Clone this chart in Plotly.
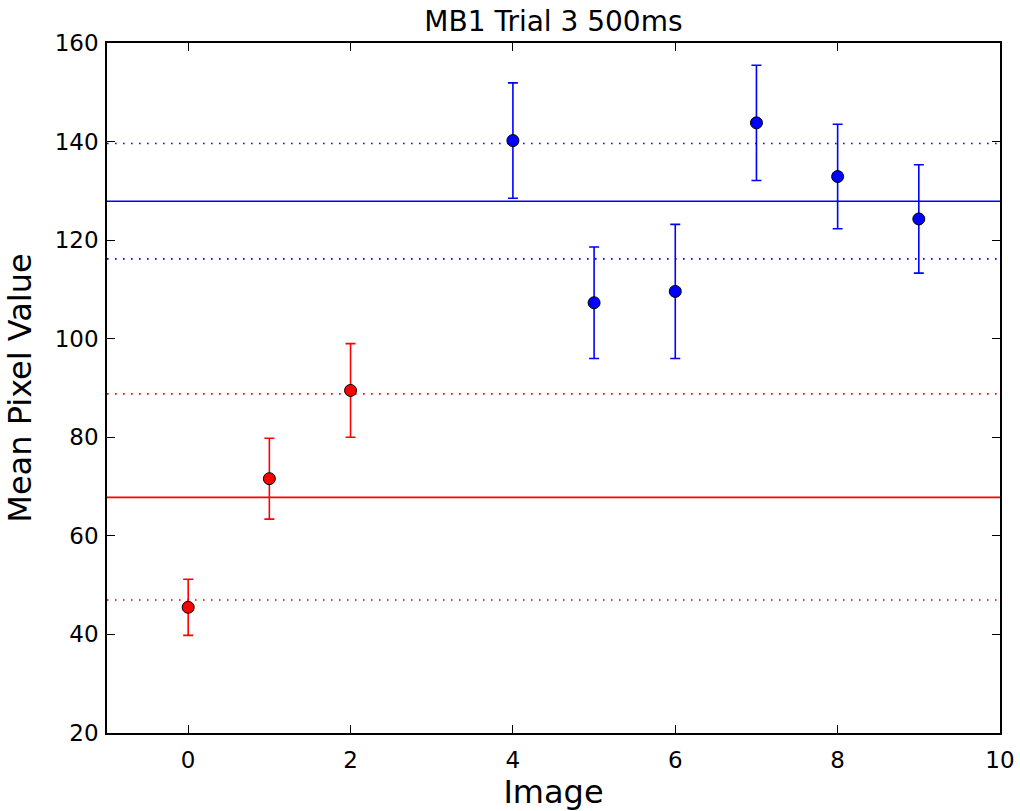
import plotly.graph_objects as go

# Image indices and mean pixel values with their standard deviations
red_x = [0, 1, 2]
red_y = [45.5, 71.6, 89.5]
red_err = [5.7, 8.2, 9.5]

blue_x = [4, 5, 6, 7, 8, 9]
blue_y = [140.2, 107.3, 109.6, 143.8, 132.9, 124.3]
blue_err = [11.7, 11.3, 13.6, 11.7, 10.6, 11.0]

# Group mean and mean ± std reference levels
red_mean = 67.8
red_bounds = [88.8, 47.0]
blue_mean = 127.9
blue_bounds = [139.6, 116.2]

x_range = [-1, 10]
y_range = [20, 160]
x_ticks = [0, 2, 4, 6, 8, 10]
y_ticks = [20, 40, 60, 80, 100, 120, 140, 160]

RED = "#ff0000"
BLUE = "#0000ff"
FONT = "DejaVu Sans"

fig = go.Figure()

# Horizontal reference lines spanning the axis
for level, color in [(red_mean, RED), (blue_mean, BLUE)]:
    fig.add_trace(go.Scatter(x=x_range, y=[level, level], mode="lines",
                             line=dict(color=color, width=1.6),
                             hoverinfo="skip", showlegend=False))
for levels, color in [(red_bounds, RED), (blue_bounds, BLUE)]:
    for level in levels:
        fig.add_trace(go.Scatter(x=x_range, y=[level, level], mode="lines",
                                 line=dict(color=color, width=1.6, dash="1.6px,6.4px"),
                                 hoverinfo="skip", showlegend=False))

# Points with error bars
for xs, ys, errs, color in [(red_x, red_y, red_err, RED), (blue_x, blue_y, blue_err, BLUE)]:
    fig.add_trace(go.Scatter(
        x=xs, y=ys, mode="markers",
        marker=dict(color=color, size=12, line=dict(color="black", width=1)),
        error_y=dict(type="data", array=errs, visible=True, color=color,
                     thickness=1.6, width=5),
        showlegend=False))

axis_common = dict(
    showgrid=False, zeroline=False, showline=True, linecolor="black", linewidth=1.5,
    mirror="allticks", ticks="inside", ticklen=8, tickwidth=1, tickcolor="black",
    tickfont=dict(family=FONT, size=23, color="black"), automargin=False,
)

fig.update_xaxes(range=x_range, tickvals=x_ticks,
                 title=dict(text="Image", font=dict(family=FONT, size=32, color="black"),
                            standoff=8),
                 ticklabelstandoff=6,
                 **axis_common)
fig.update_yaxes(range=y_range, tickvals=y_ticks,
                 title=dict(text="Mean Pixel Value", font=dict(family=FONT, size=32, color="black"),
                            standoff=14),
                 ticklabelstandoff=2,
                 **axis_common)

fig.update_layout(
    width=1020, height=811,
    margin=dict(l=107, r=20, t=43, b=78),
    paper_bgcolor="white", plot_bgcolor="white",
    title=dict(text="MB1 Trial 3 500ms", x=0.5426, xanchor="center", y=0.9733, yanchor="middle",
               font=dict(family=FONT, size=28, color="black")),
)

fig.write_html("out.html")
